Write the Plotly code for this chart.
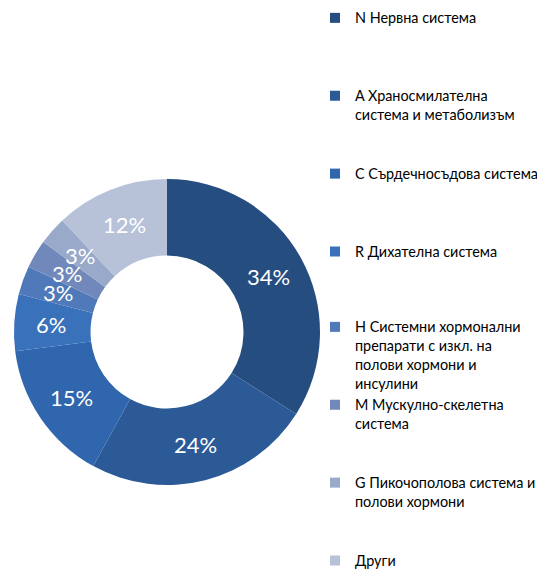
import math
import plotly.graph_objects as go

categories = [
    "N Нервна система",
    "A Храносмилателна<br>система и метаболизъм",
    "C Сърдечносъдова система",
    "R Дихателна система",
    "H Системни хормонални<br>препарати с изкл. на<br>полови хормони и<br>инсулини",
    "M Мускулно-скелетна<br>система",
    "G Пикочополова система и<br>полови хормони",
    "Други",
]
values = [34, 24, 15, 6, 3, 3, 3, 12]
colors = ["#264d80", "#2b5a96", "#2f66ae", "#3a71bb", "#5079b9", "#7089ba", "#98a9c9", "#b7c2d9"]
legend_ids = ["legend", "legend", "legend", "legend", "legend2", "legend2", "legend2", "legend2"]

W, H = 537, 569
cx, cy, r = 167, 332, 153
hole = 0.5
label_r = r * (1 + hole) / 2 + 1  # mid-ring radius for labels

fig = go.Figure()
fig.add_trace(go.Pie(
    labels=categories,
    values=values,
    sort=False,
    direction="clockwise",
    rotation=0,
    hole=hole,
    marker=dict(colors=colors, line=dict(width=0)),
    textinfo="none",
    showlegend=False,
    domain=dict(x=[(cx - r) / W, (cx + r) / W], y=[(H - cy - r) / H, (H - cy + r) / H]),
))

# percentage labels at the middle of each ring segment
total = sum(values)
cum = 0
for v in values:
    mid = (cum + v / 2) / total * 2 * math.pi
    cum += v
    px = cx + label_r * math.sin(mid)
    py = cy - label_r * math.cos(mid)
    fig.add_annotation(
        x=px / W, y=1 - py / H, xref="paper", yref="paper",
        text=f"{v}%", showarrow=False, xanchor="center", yanchor="middle",
        font=dict(family="Lato", size=22, color="white"),
    )

# legend entries (two legends so the tall list fits the page)
for lab, col, lg, n in zip(categories, colors, legend_ids, range(len(categories))):
    lines = lab.count("<br>") + 1
    pad = 0 if n == len(categories) - 1 else 4 - lines
    fig.add_trace(go.Scatter(
        x=[None], y=[None], mode="markers", name=lab + "<br>\u00a0" * pad,
        marker=dict(symbol="square", size=10, color=col),
        legend=lg, hoverinfo="skip",
    ))

legend_font = dict(family="Lato", size=14.4, color="#000000")
fig.update_layout(
    width=W, height=H,
    margin=dict(l=0, r=0, t=0, b=0, autoexpand=False),
    paper_bgcolor="white",
    plot_bgcolor="white",
    xaxis=dict(visible=False),
    yaxis=dict(visible=False),
    legend=dict(
        x=315 / W, xanchor="left", y=1 - 2 / H, yanchor="top",
        valign="top", font=legend_font, bgcolor="rgba(0,0,0,0)", traceorder="normal",
    ),
    legend2=dict(
        x=315 / W, xanchor="left", y=1 - 311 / H, yanchor="top",
        valign="top", font=legend_font, bgcolor="rgba(0,0,0,0)", traceorder="normal",
    ),
)

fig.write_html("out.html")
